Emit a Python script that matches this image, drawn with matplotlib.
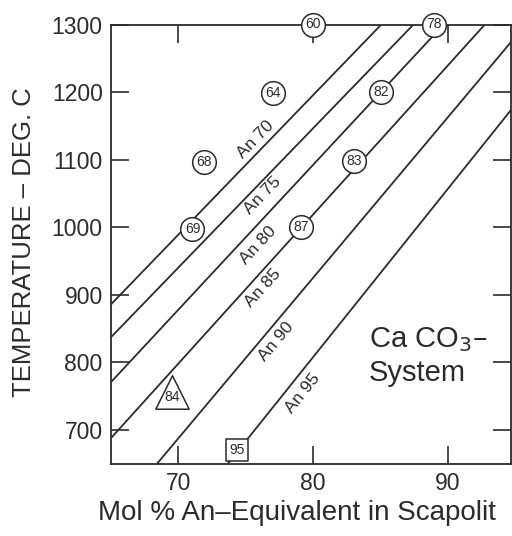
import numpy as np
import matplotlib as mpl
mpl.use("Agg")
from matplotlib import pyplot as plt

plt.rcParams['font.family'] = ['Liberation Sans', 'DejaVu Sans']

ink = "#2b2b2b"

# isopleths: composition lines, start / end points (mol % An, deg C)
an_names = ["An 70", "An 75", "An 80", "An 85", "An 90", "An 95"]
an_x0 = [65.0, 65.0, 65.0, 65.0, 68.43, 73.68]
an_T0 = [885.6, 837.0, 770.5, 687.6, 650.0, 650.0]
an_x1 = [85.07, 87.46, 89.7, 92.76, 94.7, 94.7]
an_T1 = [1300.0, 1300.0, 1300.0, 1300.0, 1274.0, 1173.4]

# where the line names sit
an_lbl_x = [75.75, 76.27, 75.9, 76.27, 77.24, 79.25]
an_lbl_T = [1129.0, 1047.5, 973.0, 910.0, 830.0, 754.0]

# circled sample numbers
circ_x = [80.0, 88.95, 77.0, 85.05, 71.9, 71.05, 83.05, 79.1]
circ_T = [1300.0, 1300.0, 1199.0, 1200.0, 1097.0, 997.0, 1098.0, 1000.0]
circ_lbl = ["60", "78", "64", "82", "68", "69", "83", "87"]

# triangle and square samples
tri_x, tri_T, tri_lbl = [69.55], [756.5], ["84"]
sq_x, sq_T, sq_lbl = [74.33], [670.6], ["95"]

xticks = [70, 80, 90]
yticks = [700, 800, 900, 1000, 1100, 1200, 1300]

fig = plt.figure(figsize=(5.12, 5.36), dpi=100)
ax = fig.add_axes([111/512, 1-463.5/536, 400/512, 439/536])
ax.set_xlim(65, 94.7)
ax.set_ylim(650, 1300)

for s in ax.spines.values():
    s.set_linewidth(1.3)
    s.set_color(ink)
    s.set_zorder(2)

ax.set_xticks(xticks)
ax.set_yticks(yticks)
ax.tick_params(direction="in", length=13, width=1.2, color=ink, top=True, right=True,
               labelsize=16.5, labelcolor=ink, pad=6)

for i in range(len(an_names)):
    ax.plot([an_x0[i], an_x1[i]], [an_T0[i], an_T1[i]], color=ink, lw=1.3, zorder=1,
            solid_capstyle="butt")
    p0 = ax.transData.transform((an_x0[i], an_T0[i]))
    p1 = ax.transData.transform((an_x1[i], an_T1[i]))
    ang = np.degrees(np.arctan2(p1[1]-p0[1], p1[0]-p0[0]))
    ax.text(an_lbl_x[i], an_lbl_T[i], an_names[i], rotation=ang, rotation_mode="anchor",
            ha="center", va="center", fontsize=12.5, color=ink)

ax.scatter(circ_x, circ_T, s=290, marker="o", facecolor="white", edgecolor=ink,
           linewidth=1.1, zorder=5, clip_on=False)
for x, t, l in zip(circ_x, circ_T, circ_lbl):
    ax.text(x, t, l, ha="center", va="center", fontsize=10, color=ink, zorder=6, clip_on=False)

ax.scatter(tri_x, tri_T, s=580, marker="^", facecolor="white", edgecolor=ink,
           linewidth=1.1, zorder=5)
ax.text(tri_x[0], tri_T[0] - 8, tri_lbl[0], ha="center", va="center", fontsize=10,
        color=ink, zorder=6)

ax.scatter(sq_x, sq_T, s=270, marker="s", facecolor="white", edgecolor=ink,
           linewidth=1.1, zorder=5)
ax.text(sq_x[0], sq_T[0], sq_lbl[0], ha="center", va="center", fontsize=10,
        color=ink, zorder=6)

ax.text(0.645, 0.245, "Ca CO$_3$\u2013\nSystem", transform=ax.transAxes, ha="left",
        va="center", fontsize=21, color=ink, linespacing=1.2)

fig.text(297/512, 1-513/536, "Mol % An\u2013Equivalent in Scapolit", ha="center",
         va="center", fontsize=20, color=ink)
fig.text(24/512, 1-242/536, "TEMPERATURE \u2013 DEG. C", rotation=90, ha="center",
         va="center", fontsize=18.5, color=ink)

fig.savefig("out.png", dpi=100)
